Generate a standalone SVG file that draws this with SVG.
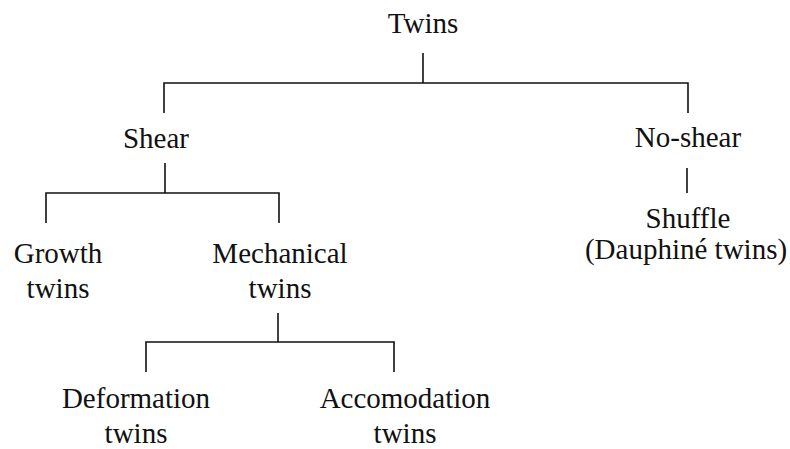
<svg xmlns="http://www.w3.org/2000/svg" width="790" height="449" viewBox="0 0 790 449">
<style>
text{font-family:"Liberation Serif","Times New Roman",serif;font-size:29px;fill:#111;text-anchor:middle}
.c line,.c path{stroke:#111;stroke-width:1.6;fill:none}
</style>
<rect width="790" height="449" fill="#fff"/>
<g class="c" id="connectors">
<line x1="423" y1="53" x2="423" y2="83"/>
<path d="M164 113V83H688V113"/>
<line x1="165" y1="163" x2="165" y2="193"/>
<path d="M46 223V193H279V223"/>
<line x1="687" y1="168" x2="687" y2="193"/>
<line x1="278" y1="313" x2="278" y2="342"/>
<path d="M146 372V342H394V372"/>
</g>
<g id="twins"><text x="423" y="33">Twins</text></g>
<g id="shear"><text x="156" y="148">Shear</text></g>
<g id="noshear"><text x="688" y="147">No-shear</text></g>
<g id="shuffle"><text x="688" y="228">Shuffle</text><text x="686" y="259">(Dauphiné twins)</text></g>
<g id="growth"><text x="58" y="263">Growth</text><text x="58" y="298">twins</text></g>
<g id="mechanical"><text x="280" y="263">Mechanical</text><text x="280" y="298">twins</text></g>
<g id="deformation"><text x="136" y="408">Deformation</text><text x="136" y="443">twins</text></g>
<g id="accomodation"><text x="405" y="408">Accomodation</text><text x="405" y="443">twins</text></g>
</svg>
